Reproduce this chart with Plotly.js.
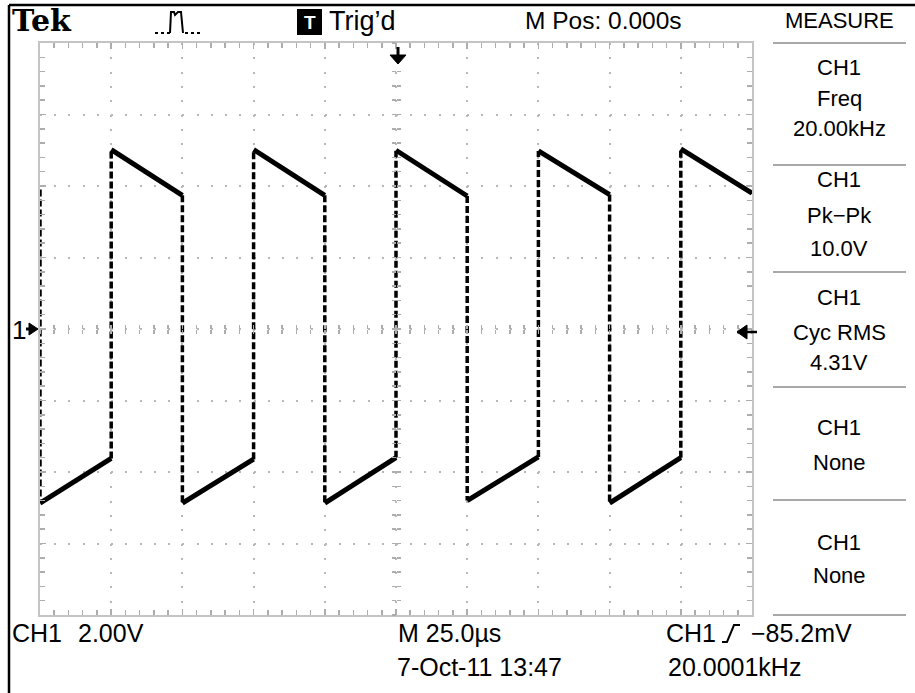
<!DOCTYPE html>
<html><head><meta charset="utf-8">
<script src="https://cdn.plot.ly/plotly-3.0.1.min.js"></script>
<style>html,body{margin:0;padding:0;background:#fff;}#chart{width:915px;height:693px;}</style>
</head><body><div id="chart"></div>
<script>
// ---- Channel 1 waveform (time in microseconds, volts) ----
const riseTimes    = [-100, -50, 0, 50, 100];
const highEndTimes = [-75, -25, 25, 75, 125];
const highStartV   = [5.02, 5.02, 5.00, 4.98, 5.04];
const highEndV     = [3.74, 3.74, 3.72, 3.76, 3.80];
const fallTimes    = [-125, -75, -25, 25, 75];
const lowStartV    = [-4.87, -4.87, -4.87, -4.80, -4.87];
const lowEndV      = [-3.62, -3.64, -3.60, -3.58, -3.60];
const preFallV     = 3.90;

// ---- screen text ----
const measureChannel = ['CH1', 'CH1', 'CH1', 'CH1', 'CH1'];
const measureType    = ['Freq', 'Pk\u2212Pk', 'Cyc RMS', 'None', 'None'];
const measureValue   = ['20.00kHz', '10.0V', '4.31V', '', ''];
const chScale = '2.00V', timeBase = 'M 25.0\u00b5s', trigLevel = '\u221285.2mV';
const dateText = '7-Oct-11 13:47', trigFreq = '20.0001kHz', mPos = 'M Pos: 0.000s';

// ---- build traces from the data ----
const plateauX = [], plateauY = [], edgeX = [], edgeY = [];
for (let i = 0; i < riseTimes.length; i++) {
  plateauX.push(fallTimes[i], riseTimes[i], null);
  plateauY.push(lowStartV[i], lowEndV[i], null);
  plateauX.push(riseTimes[i], highEndTimes[i], null);
  plateauY.push(highStartV[i], highEndV[i], null);
  edgeX.push(fallTimes[i], fallTimes[i], null);
  edgeY.push(i === 0 ? preFallV : highEndV[i - 1], lowStartV[i], null);
  edgeX.push(riseTimes[i], riseTimes[i], null);
  edgeY.push(lowEndV[i], highStartV[i], null);
}
const traces = [
  {x: [], y: [], xaxis: 'x2', yaxis: 'y2', type: 'scatter', mode: 'lines', hoverinfo: 'skip'},
  {x: [], y: [], xaxis: 'x3', yaxis: 'y3', type: 'scatter', mode: 'lines', hoverinfo: 'skip'},
  {x: edgeX, y: edgeY, type: 'scatter', mode: 'lines', hoverinfo: 'skip',
   line: {color: '#000', width: 3.5, dash: '7px,3px'}},
  {x: plateauX, y: plateauY, type: 'scatter', mode: 'lines', hoverinfo: 'skip',
   line: {color: '#000', width: 5}}
];

// ---- geometry helpers (pixel -> paper) ----
const L = 40, R = 752, T = 43, B = 615;
const px = x => (x - L) / (R - L);
const py = y => (B - y) / (B - T);
const SANS = 'Liberation Sans, Arial, sans-serif';
const gray = '#adadad';

function ann(text, x, y, size, extra) {
  return Object.assign({text: text, x: px(x), y: py(y), xref: 'paper', yref: 'paper',
    showarrow: false, xanchor: 'left', yanchor: 'middle', borderpad: 0,
    font: {family: SANS, size: size, color: '#000'}}, extra || {});
}
function pathShape(d, extra) {
  return Object.assign({type: 'path', xref: 'paper', yref: 'paper', path: d,
    line: {color: '#000', width: 2}}, extra || {});
}
function P(x, y) { return px(x) + ',' + py(y); }
function lineShape(x0, y0, x1, y1, color, width, dash) {
  return {type: 'line', xref: 'paper', yref: 'paper', x0: px(x0), y0: py(y0), x1: px(x1), y1: py(y1),
    line: {color: color, width: width, dash: dash || 'solid'}};
}

const annotations = [];
const shapes = [];

// header
annotations.push(ann('Tek', 11, 21, 30, {font: {family: 'DejaVu Serif, Liberation Serif, serif', size: 30, color: '#000', weight: 'bold'}}));
annotations.push(ann('Trig\u2019d', 328, 21, 27));
annotations.push(ann(mPos, 524, 20, 24.5));
annotations.push(ann('MEASURE', 839, 20, 22, {xanchor: 'center'}));
// T box
shapes.push({type: 'rect', xref: 'paper', yref: 'paper', x0: px(297), x1: px(322), y0: py(35), y1: py(9),
  fillcolor: '#000', line: {width: 0}});
annotations.push(ann('T', 309.5, 22.5, 19, {xanchor: 'center', font: {family: SANS, size: 19, color: '#fff', weight: 'bold'}}));
// pulse icon
shapes.push(pathShape('M' + P(155, 33) + 'L' + P(170, 33), {line: {color: '#000', width: 2, dash: 'dot'}}));
shapes.push(pathShape('M' + P(185, 33) + 'L' + P(203, 33), {line: {color: '#000', width: 2, dash: 'dot'}}));
shapes.push(pathShape('M' + P(170, 33) + 'L' + P(171, 12) + 'L' + P(174, 12) + 'L' + P(175, 15) + 'L' + P(178, 12) + 'L' + P(181, 12) + 'L' + P(183, 33)));

// outer frame
shapes.push(lineShape(9, 5, 915, 5, '#000', 2.5));
shapes.push(lineShape(9, 5, 9, 693, '#000', 2.5));

// trigger position arrow (top), ground marker (left), trigger level arrow (right)
shapes.push(pathShape('M' + P(398, 47) + 'L' + P(398, 56), {line: {color: '#000', width: 3}}));
shapes.push(pathShape('M' + P(390, 55) + 'L' + P(406, 55) + 'L' + P(398, 64) + 'Z', {fillcolor: '#000', line: {color: '#000', width: 1}}));
annotations.push(ann('1', 11, 330, 26));
shapes.push(pathShape('M' + P(29, 323) + 'L' + P(38, 329) + 'L' + P(29, 335) + 'Z', {fillcolor: '#000', line: {color: '#000', width: 1}}));
shapes.push(pathShape('M' + P(26, 329) + 'L' + P(32, 329), {line: {color: '#000', width: 3}}));
shapes.push(pathShape('M' + P(737, 332) + 'L' + P(747, 325) + 'L' + P(747, 339) + 'Z', {fillcolor: '#000', line: {color: '#000', width: 1}}));
shapes.push(pathShape('M' + P(745, 332) + 'L' + P(757, 332), {line: {color: '#000', width: 2.5}}));

// measure panel
const sepY = [43, 165, 272, 387, 500, 615];
sepY.forEach(y => shapes.push(lineShape(773, y, 906, y, '#a8a8a8', 2)));
const rowY = [[67, 98, 129], [180, 216, 248], [297, 332, 362], [427, 462], [542, 575]];
for (let i = 0; i < measureChannel.length; i++) {
  const texts = [measureChannel[i], measureType[i], measureValue[i]];
  rowY[i].forEach((y, k) => { if (texts[k]) annotations.push(ann(texts[k], 839, y, 22, {xanchor: 'center'})); });
}

// bottom readouts
const bf = {family: SANS, size: 25, color: '#000'};
annotations.push(ann('CH1', 11, 633, 25, {font: bf}));
annotations.push(ann(chScale, 77, 633, 25, {font: bf}));
annotations.push(ann(timeBase, 397, 633, 25, {font: bf}));
annotations.push(ann('CH1', 665, 633, 25, {font: bf}));
shapes.push(pathShape('M' + P(722, 642) + 'L' + P(727, 642) + 'L' + P(734, 625) + 'L' + P(740, 625), {line: {color: '#000', width: 2}}));
annotations.push(ann(trigLevel, 750, 633, 25, {font: bf}));
annotations.push(ann(dateText, 396, 667, 25, {font: bf}));
annotations.push(ann(trigFreq, 667, 667, 25, {font: bf}));

const tickCommon = {showticklabels: false, showgrid: false, zeroline: false, showline: false,
  tickcolor: gray, tickwidth: 1.5, fixedrange: true};
const layout = {
  width: 915, height: 693,
  margin: {l: L, r: 915 - R, t: T, b: 693 - B, pad: 0},
  paper_bgcolor: '#fff', plot_bgcolor: '#fff',
  showlegend: false,
  xaxis: {range: [-125, 125], dtick: 25, tick0: 0, showgrid: true, gridcolor: '#b8b8b8', gridwidth: 2,
    griddash: '2px,12.3px', zeroline: false, showline: true, linecolor: '#c4c4c4', linewidth: 2,
    mirror: 'ticks', ticks: 'inside', ticklen: 6, tickwidth: 1.5, tickcolor: gray,
    showticklabels: false, fixedrange: true,
    minor: {dtick: 5, tick0: 0, ticks: 'inside', ticklen: 5, tickwidth: 1.5, tickcolor: gray, showgrid: false}},
  yaxis: {range: [-8, 8], dtick: 2, tick0: 0, showgrid: true, gridcolor: '#b8b8b8', gridwidth: 2,
    griddash: '2px,12.24px', zeroline: false, showline: true, linecolor: '#c4c4c4', linewidth: 2,
    mirror: 'ticks', ticks: 'inside', ticklen: 6, tickwidth: 1.5, tickcolor: gray,
    showticklabels: false, fixedrange: true,
    minor: {dtick: 0.4, tick0: 0, ticks: 'inside', ticklen: 5, tickwidth: 1.5, tickcolor: gray, showgrid: false}},
  xaxis2: Object.assign({overlaying: 'x', anchor: 'free', position: 0.5, range: [-125, 125], dtick: 5, tick0: 0, ticks: 'inside', ticklen: 4}, tickCommon),
  xaxis3: Object.assign({overlaying: 'x', anchor: 'free', position: 0.5, range: [-125, 125], dtick: 5, tick0: 0, ticks: 'outside', ticklen: 4}, tickCommon),
  yaxis2: Object.assign({overlaying: 'y', anchor: 'free', position: 0.5, range: [-8, 8], dtick: 0.4, tick0: 0, ticks: 'inside', ticklen: 4}, tickCommon),
  yaxis3: Object.assign({overlaying: 'y', anchor: 'free', position: 0.5, range: [-8, 8], dtick: 0.4, tick0: 0, ticks: 'outside', ticklen: 4}, tickCommon),
  shapes: shapes,
  annotations: annotations
};
Plotly.newPlot('chart', traces, layout, {displayModeBar: false, staticPlot: true});
</script>
</body></html>
